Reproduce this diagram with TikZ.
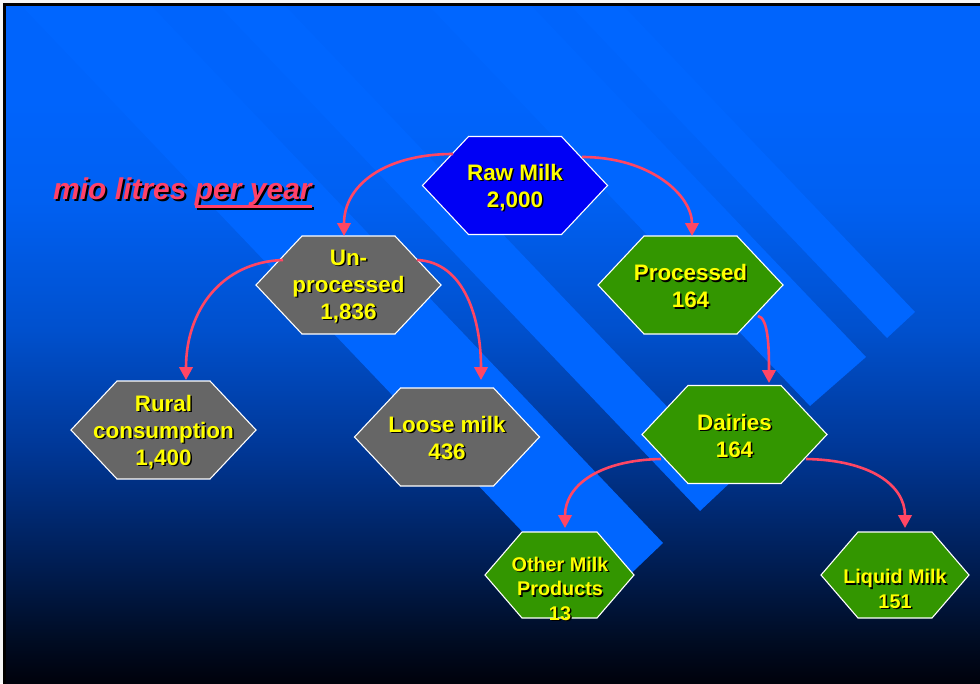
\documentclass[tikz,border=0pt]{standalone}
\usepackage{fontspec}
\setmainfont{Liberation Sans}
\usetikzlibrary{calc,arrows.meta}

\definecolor{bg0}{RGB}{0,0,8}
\definecolor{bg1}{RGB}{0,12,35}
\definecolor{bg2}{RGB}{0,30,85}
\definecolor{bg3}{RGB}{0,55,150}
\definecolor{bg4}{RGB}{0,80,205}
\definecolor{bg5}{RGB}{0,96,242}
\definecolor{bg6}{RGB}{0,100,252}
\definecolor{stripeBlue}{RGB}{0,102,255}
\definecolor{hexBlue}{RGB}{0,0,245}
\definecolor{hexGray}{RGB}{102,102,102}
\definecolor{hexGreen}{RGB}{51,150,0}
\definecolor{txtYellow}{RGB}{255,255,0}
\definecolor{arrowRed}{RGB}{255,70,100}
\definecolor{titlePink}{RGB}{255,65,105}

\pgfdeclareverticalshading{slidebg}{100bp}{color(0bp)=(bg0); color(25bp)=(bg0); color(28.65bp)=(bg1); color(34.45bp)=(bg2); color(42.5bp)=(bg3); color(51.2bp)=(bg4); color(60.65bp)=(bg5); color(68bp)=(bg6); color(100bp)=(bg6)}

\tikzset{
  lbl/.style={font=\bfseries\fontsize{22.4}{27}\selectfont, text=txtYellow, align=center, inner sep=0pt},
  lblsmall/.style={font=\bfseries\fontsize{19.8}{24.5}\selectfont, text=txtYellow, align=center, inner sep=0pt},
  hexline/.style={draw=white, line width=1.1pt},
  conn/.style={draw=arrowRed, line width=2.6pt, -{Triangle[width=13.5pt,length=13pt]}},
  stripefill/.style={fill=stripeBlue},
  titletext/.style={font=\bfseries\itshape\fontsize{30}{36}\selectfont, inner sep=0pt, anchor=base west, text=titlePink}
}

% #1 centre coordinate name, #2 half width, #3 half height, #4 inset, #5 fill
\newcommand\hexshape[5]{%
  \path[hexline, fill=#5] ($(#1)+(-#2,0)$) -- ($(#1)+(-#2+#4,-#3)$) -- ($(#1)+(#2-#4,-#3)$)
    -- ($(#1)+(#2,0)$) -- ($(#1)+(#2-#4,#3)$) -- ($(#1)+(-#2+#4,#3)$) -- cycle;}
% text with a black drop shadow
\newcommand\shd[2][1.5pt]{\rlap{\hspace{#1}\raisebox{-#1}{\textcolor{black}{#2}}}#2}
\newcommand\ulbar[1]{\setbox0\hbox{#1}\rlap{\raisebox{-9pt}{\rule{\wd0}{3pt}}}\box0}
% stripe: upper-right cap corner, lower-left cap corner
\newcommand\stripeband[2]{%
  \fill[stripefill] #1 -- #2 -- ($#2+(-700,-735)$) -- ($#1+(-700,-735)$) -- cycle;}

\begin{document}
\begin{tikzpicture}[x=1pt,y=-1pt]
\useasboundingbox (0,0) rectangle (980,683);
% page and slide background
\fill[white!92!gray] (0,0) rectangle (980,683);
\shade[shading=slidebg] (4,4) rectangle (990,690);
\begin{scope}
  \clip (5,6) rectangle (990,690);
  \stripeband{(915,312)}{(887,338)}
  \stripeband{(866,357)}{(810,406)}
  \stripeband{(735,478)}{(700,511)}
  \stripeband{(663,543)}{(595,608)}
\end{scope}
\draw[black, line width=3pt] (4,690) -- (4,4.5) -- (990,4.5);

% hexagon centres
\coordinate (rawC) at (515,185.5);
\coordinate (unC) at (348.5,285);
\coordinate (procC) at (690.5,285);
\coordinate (rurC) at (163.5,430);
\coordinate (looseC) at (447,437);
\coordinate (dairC) at (734.5,434.5);
\coordinate (othC) at (559.5,575);
\coordinate (liqC) at (895,575);

\hexshape{rawC}{92.5}{49}{46}{hexBlue}
\hexshape{unC}{92.5}{49}{46}{hexGray}
\hexshape{procC}{92.5}{49}{46}{hexGreen}
\hexshape{rurC}{92.5}{49}{46}{hexGray}
\hexshape{looseC}{92.5}{49}{46}{hexGray}
\hexshape{dairC}{92.5}{49}{46}{hexGreen}
\hexshape{othC}{74.5}{43}{37}{hexGreen}
\hexshape{liqC}{74}{43}{37}{hexGreen}

% connectors
\draw[conn] ($(rawC)+(-62,-31.5)$) .. controls ($(rawC)+(-130,-31.5)$) and ($(unC)+(-4.5,-100)$) .. ($(unC)+(-4.5,-49)$);
\draw[conn] ($(rawC)+(67,-28.5)$) .. controls ($(rawC)+(135,-28.5)$) and ($(procC)+(1.5,-90)$) .. ($(procC)+(1.5,-49)$);
\draw[conn] ($(unC)+(-65.5,-25)$) .. controls ($(unC)+(-126.5,-23)$) and ($(rurC)+(22.5,-120)$) .. ($(rurC)+(22.5,-50)$);
\draw[conn] ($(unC)+(68.5,-25)$) .. controls ($(unC)+(116.5,-23)$) and ($(looseC)+(34,-117)$) .. ($(looseC)+(34,-57)$);
\draw[conn] ($(procC)+(67.5,31)$) .. controls ($(procC)+(77.5,33)$) and ($(dairC)+(34.5,-89.5)$) .. ($(dairC)+(34.5,-51.5)$);
\draw[conn] ($(dairC)+(-73.5,24.5)$) .. controls ($(dairC)+(-134.5,25.5)$) and ($(othC)+(5.5,-90)$) .. ($(othC)+(5.5,-47)$);
\draw[conn] ($(dairC)+(71.5,24.5)$) .. controls ($(dairC)+(135.5,25.5)$) and ($(liqC)+(10,-90)$) .. ($(liqC)+(10,-47)$);

% labels
\node[lbl] (raw) at (515,188) {\shd{Raw Milk}\\\shd{2,000}};
\node[lbl] (un) at (348.5,287) {\shd{Un-}\\\shd{processed}\\\shd{1,836}};
\node[lbl] (proc) at (690.5,287) {\shd{Processed}\\\shd{164}};
\node[lbl] (rur) at (163.5,432.5) {\shd{Rural}\\\shd{consumption}\\\shd{1,400}};
\node[lbl] (loose) at (447,438.5) {\shd{Loose milk}\\\shd{436}};
\node[lbl] (dair) at (734.5,436.5) {\shd{Dairies}\\\shd{164}};
\node[lblsmall] (oth) at (560,589.5) {\shd{Other Milk}\\\shd{Products}\\\shd{13}};
\node[lblsmall] (liq) at (895,589.5) {\shd{Liquid Milk}\\\shd{151}};

% title
\node[titletext] (title) at (53,199) {\shd[2pt]{mio litres \ulbar{per year}}};
\end{tikzpicture}
\end{document}
